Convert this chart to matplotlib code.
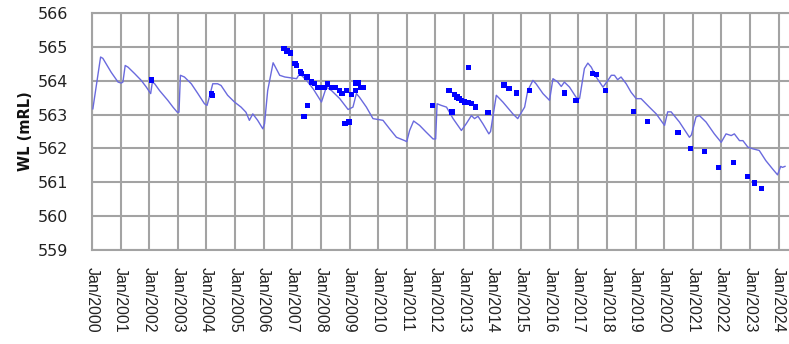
import matplotlib
matplotlib.use("Agg")
import matplotlib.pyplot as plt
import matplotlib.patheffects as pe

# Simulated / continuous water level (decimal year, mRL)
line_year = [2000.03, 2000.30, 2000.38, 2000.67, 2000.91, 2001.02, 2001.08, 2001.16, 2001.26,
             2001.49, 2001.72, 2001.90, 2002.05, 2002.11, 2002.19, 2002.36, 2002.65, 2002.83,
             2002.98, 2003.04, 2003.09, 2003.23, 2003.47, 2003.70, 2003.93, 2004.02, 2004.10,
             2004.22, 2004.39, 2004.51, 2004.74, 2004.98, 2005.21, 2005.38, 2005.50, 2005.62,
             2005.79, 2005.97, 2006.03, 2006.14, 2006.33, 2006.56, 2006.74, 2007.15, 2007.26,
             2007.50, 2007.73, 2008.02, 2008.19, 2008.37, 2008.66, 2008.95, 2009.12, 2009.24,
             2009.35, 2009.59, 2009.82, 2010.17, 2010.40, 2010.64, 2010.93, 2011.00, 2011.10,
             2011.24, 2011.45, 2011.68, 2011.92, 2012.01, 2012.06, 2012.21, 2012.39, 2012.62,
             2012.91, 2013.08, 2013.26, 2013.37, 2013.49, 2013.66, 2013.87, 2013.93, 2014.13,
             2014.36, 2014.71, 2014.88, 2014.94, 2015.12, 2015.23, 2015.41, 2015.52, 2015.76,
             2015.99, 2016.11, 2016.28, 2016.40, 2016.51, 2016.69, 2016.92, 2017.04, 2017.21,
             2017.33, 2017.45, 2017.62, 2017.86, 2018.03, 2018.15, 2018.26, 2018.37, 2018.49,
             2018.67, 2018.84, 2019.02, 2019.19, 2019.48, 2019.72, 2020.01, 2020.12, 2020.24,
             2020.53, 2020.88, 2020.95, 2021.11, 2021.23, 2021.46, 2021.75, 2021.99, 2022.16,
             2022.34, 2022.45, 2022.63, 2022.75, 2022.92, 2023.09, 2023.32, 2023.55, 2023.78,
             2023.96, 2024.07, 2024.13, 2024.22]
line_wl = [563.17, 564.70, 564.66, 564.25, 563.96, 563.93, 563.96, 564.45, 564.40,
           564.21, 564.01, 563.81, 563.62, 563.96, 563.91, 563.71, 563.42, 563.22,
           563.07, 563.07, 564.16, 564.11, 563.91, 563.62, 563.32, 563.27, 563.51,
           563.91, 563.91, 563.86, 563.57, 563.37, 563.22, 563.07, 562.83, 563.02,
           562.83, 562.58, 562.73, 563.71, 564.53, 564.16, 564.11, 564.06, 564.21,
           564.01, 563.76, 563.37, 563.81, 563.71, 563.47, 563.15, 563.22, 563.62,
           563.51, 563.22, 562.88, 562.83, 562.58, 562.33, 562.23, 562.20, 562.53,
           562.81, 562.68, 562.48, 562.28, 562.28, 563.32, 563.27, 563.22, 562.88,
           562.53, 562.73, 562.97, 562.88, 562.95, 562.73, 562.43, 562.50, 563.57,
           563.37, 563.02, 562.88, 562.97, 563.22, 563.71, 564.01, 563.91, 563.62,
           563.42, 564.06, 563.96, 563.83, 563.96, 563.81, 563.51, 563.47, 564.36,
           564.52, 564.40, 564.11, 563.81, 564.01, 564.16, 564.16, 564.03, 564.11,
           563.91, 563.66, 563.47, 563.47, 563.22, 563.02, 562.68, 563.08, 563.08,
           562.78, 562.33, 562.40, 562.93, 562.97, 562.78, 562.43, 562.18, 562.43,
           562.38, 562.43, 562.23, 562.23, 562.04, 561.99, 561.94, 561.64, 561.40,
           561.22, 561.47, 561.44, 561.47]

# Observed water levels
obs_year = [2002.09, 2004.18, 2004.22, 2006.71, 2006.82, 2006.95, 2007.09, 2007.15, 2007.29,
            2007.33, 2007.51, 2007.66, 2007.77, 2007.89, 2008.00, 2008.12, 2008.24, 2008.36,
            2008.51, 2008.65, 2008.74, 2008.90, 2009.07, 2009.20, 2009.23, 2009.32, 2009.40,
            2009.48, 2007.52, 2007.41, 2008.84, 2008.98, 2011.90, 2012.48, 2012.58, 2012.68,
            2012.76, 2012.83, 2012.91, 2013.03, 2013.14, 2013.26, 2013.41, 2013.17, 2013.84,
            2014.40, 2014.57, 2014.83, 2015.29, 2016.51, 2016.92, 2017.50, 2017.62, 2017.94,
            2018.92, 2019.42, 2020.48, 2020.91, 2021.41, 2021.90, 2022.42, 2022.92, 2023.16,
            2023.41]
obs_wl = [564.02, 563.61, 563.57, 564.95, 564.88, 564.82, 564.50, 564.45, 564.28,
          564.21, 564.11, 563.96, 563.91, 563.81, 563.81, 563.81, 563.90, 563.81,
          563.81, 563.71, 563.63, 563.71, 563.59, 563.71, 563.93, 563.93, 563.81,
          563.80, 563.27, 562.94, 562.73, 562.78, 563.27, 563.71, 563.08, 563.59,
          563.52, 563.47, 563.42, 563.37, 563.36, 563.32, 563.22, 564.38, 563.06,
          563.87, 563.76, 563.64, 563.71, 563.64, 563.42, 564.21, 564.19, 563.71,
          563.09, 562.80, 562.48, 561.99, 561.91, 561.44, 561.59, 561.18, 560.98,
          560.81]

tick_years = list(range(2000, 2025))
tick_labels = [f"Jan/{y}" for y in tick_years]
y_ticks = [559, 560, 561, 562, 563, 564, 565, 566]

fig = plt.figure(figsize=(7.89, 3.44), dpi=100)
ax = fig.add_axes([92/789, 1 - 250/344, 1 - 92/789, (250 - 13)/344])

grid_c = "#a3a3a3"
ax.plot(line_year, line_wl, color="#6a6ade", lw=1.0, zorder=3)
ax.plot(obs_year, obs_wl, linestyle="none", marker="s", markersize=3.8,
        color="#0000ff", markeredgewidth=0, zorder=4,
        path_effects=[pe.SimpleLineShadow(offset=(1.2, -1.2), shadow_color="gray", alpha=0.35),
                      pe.Normal()])

ax.set_xlim(2000, 2024.36)
ax.set_ylim(559, 566)
ax.set_yticks(y_ticks)
ax.set_xticks(tick_years)
ax.set_xticklabels(tick_labels, rotation=270, ha="center", va="top",
                   fontsize=11.5, family="Liberation Sans")
ax.tick_params(axis="both", length=0)
ax.tick_params(axis="y", pad=17, labelsize=11.5, labelcolor="#222222")
ax.tick_params(axis="x", pad=12, labelcolor="#222222")
ax.grid(True, color=grid_c, lw=1.5)
ax.set_axisbelow(True)
for s in ["left", "bottom", "top"]:
    ax.spines[s].set_color(grid_c)
    ax.spines[s].set_linewidth(1.5)
ax.spines["right"].set_visible(False)

ax.set_ylabel("WL (mRL)", fontsize=10.5, fontweight="bold", color="#111111")
ax.yaxis.set_label_coords(-0.084, 0.5)

fig.savefig("out.png", dpi=100)
